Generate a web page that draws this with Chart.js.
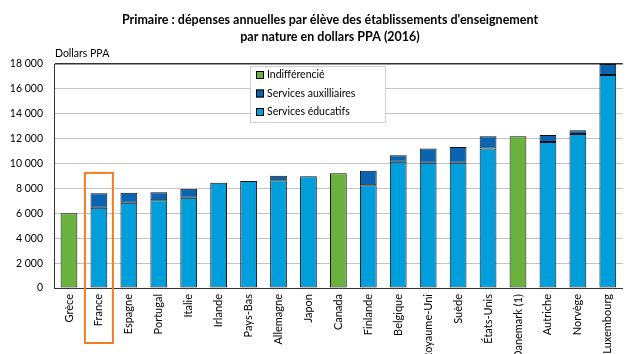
<!DOCTYPE html>
<html>
<head>
<meta charset="utf-8">
<script src="https://cdn.jsdelivr.net/npm/chart.js@4/dist/chart.umd.min.js"></script>
<style>
  html, body { margin: 0; padding: 0; background: #fff; overflow: hidden; }
  #wrap { width: 627px; height: 354px; position: relative; }
</style>
</head>
<body>
<div id="wrap"><canvas id="chart"></canvas></div>
<script>
// DATA
const countries = ["Grèce", "France", "Espagne", "Portugal", "Italie", "Irlande", "Pays-Bas",
  "Allemagne", "Japon", "Canada", "Finlande", "Belgique", "Royaume-Uni", "Suède",
  "États-Unis", "Danemark (1)", "Autriche", "Norvège", "Luxembourg"];

const educatifs = [null, 6450, 6860, 7050, 7260, 8460, 8600, 8660, 8980, null, 8260, 10150,
  10070, 10070, 11200, null, 11740, 12380, 17120];
const auxiliaires = [null, 1160, 800, 640, 720, null, null, 370, null, null, 1170, 520,
  1130, 1260, 990, null, 560, 300, 880];
const indifferencie = [6000, null, null, null, null, null, null, null, null, 9220, null, null,
  null, null, null, 12190, null, null, null];

const yTicks = [0, 2000, 4000, 6000, 8000, 10000, 12000, 14000, 16000, 18000];

const FONT = "Lato, 'Open Sans', sans-serif";
const GREEN = "#6ab23e";
const DARK = "#0a64b0";
const LIGHT = "#009fdc";

// TITLE + LEGEND + HIGHLIGHT
const extras = {
  id: "extras",
  afterDraw(chart) {
    const ctx = chart.ctx;
    const area = chart.chartArea;
    const xs = chart.scales.x;
    const ys = chart.scales.y;

    ctx.save();
    ctx.fillStyle = "#000";
    ctx.textAlign = "center";
    ctx.textBaseline = "middle";
    ctx.font = "bold 12.5px " + FONT;
    ctx.fillText("Primaire : dépenses annuelles par élève des établissements d'enseignement", 330, 20);
    ctx.fillText("par nature en dollars PPA (2016)", 330, 37);

    ctx.textAlign = "left";
    ctx.font = "10.5px " + FONT;
    ctx.fillText("Dollars PPA", 55, 54);

    // legend box
    const lx = 250, ly = 66, lw = 135, lh = 56;
    ctx.fillStyle = "#fff";
    ctx.fillRect(lx, ly, lw, lh);
    ctx.strokeStyle = "#d0d0d0";
    ctx.lineWidth = 1;
    ctx.strokeRect(lx + 0.5, ly + 0.5, lw, lh);
    const items = [["Indifférencié", GREEN], ["Services auxilliaires", DARK], ["Services éducatifs", LIGHT]];
    ctx.font = "10.5px " + FONT;
    items.forEach((it, i) => {
      const cy = ly + 9 + i * 18.5;
      ctx.fillStyle = it[1];
      ctx.fillRect(lx + 6, cy - 4, 8, 8);
      ctx.strokeStyle = "#000";
      ctx.strokeRect(lx + 6.5, cy - 3.5, 7, 7);
      ctx.fillStyle = "#000";
      ctx.fillText(it[0], lx + 17, cy);
    });

    // France highlight
    const fx = xs.getPixelForValue(1);
    ctx.strokeStyle = "#f07d24";
    ctx.lineWidth = 2;
    ctx.strokeRect(fx - 14, ys.getPixelForValue(9250), 28, area.bottom + 55 - ys.getPixelForValue(9250));
    ctx.restore();
  }
};

new Chart(document.getElementById("chart"), {
  type: "bar",
  data: {
    labels: countries,
    datasets: [
      { label: "Services éducatifs", data: educatifs, backgroundColor: LIGHT },
      { label: "Services auxilliaires", data: auxiliaires, backgroundColor: DARK },
      { label: "Indifférencié", data: indifferencie, backgroundColor: GREEN }
    ]
  },
  options: {
    responsive: true,
    maintainAspectRatio: false,
    animation: false,
    layout: { padding: { top: 64, left: 0, right: 0, bottom: 0 } },
    datasets: {
      bar: {
        borderColor: "#111",
        borderWidth: 1,
        borderSkipped: false,
        barPercentage: 0.56,
        categoryPercentage: 1,
        skipNull: true
      }
    },
    plugins: {
      legend: { display: false },
      tooltip: { enabled: false }
    },
    scales: {
      x: {
        stacked: true,
        grid: { display: false, drawTicks: false },
        border: { color: "#333", width: 1 },
        ticks: {
          autoSkip: false,
          maxRotation: 90,
          minRotation: 90,
          padding: 6,
          color: "#000",
          font: { family: FONT, size: 11 }
        },
        afterFit(scale) { scale.height = 66; }
      },
      y: {
        stacked: true,
        min: 0,
        max: 18000,
        afterBuildTicks(scale) { scale.ticks = yTicks.map(v => ({ value: v })); },
        grid: {
          drawTicks: false,
          color: ctx => ctx.tick && ctx.tick.value === 18000 ? "#333" : "#c4c4c4",
          lineWidth: ctx => ctx.tick && ctx.tick.value === 18000 ? 1.5 : 1
        },
        border: { color: "#333", width: 1 },
        ticks: {
          padding: 11,
          color: "#000",
          font: { family: FONT, size: 10.5 },
          callback: v => v === 0 ? "0" : String(v).replace(/\B(?=(\d{3})+(?!\d))/g, " ")
        },
        afterFit(scale) { scale.width = 54; }
      }
    }
  },
  plugins: [extras]
});
</script>
</body>
</html>
